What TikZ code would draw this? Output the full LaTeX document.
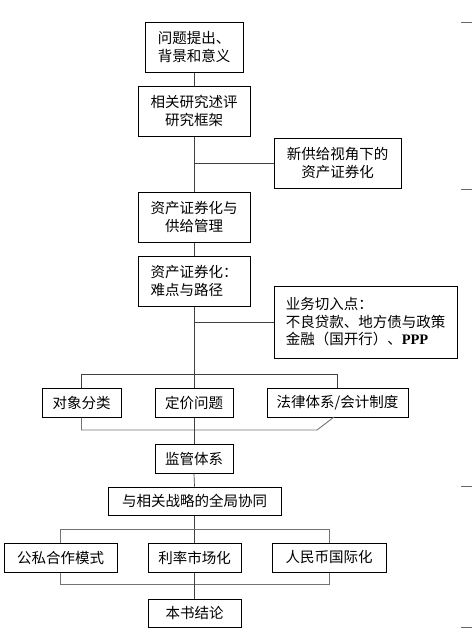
\documentclass[tikz,border=0pt]{standalone}
\usepackage{fontspec}
\setmainfont{Noto Sans CJK SC}
\newfontfamily\latinserif{Liberation Serif}
\begin{document}
\begin{tikzpicture}[x=1pt,y=-1pt,
  box/.style={draw=black,line width=1pt,inner sep=0pt,align=center,
    font=\fontsize{14.5}{17.5}\selectfont},
  lbox/.style={box,align=left},
  conn/.style={draw=black!75,line width=0.7pt},
  gconn/.style={draw=black!55,line width=0.9pt},
  tick/.style={draw=black!60,line width=0.6pt}]
\useasboundingbox (0,0) rectangle (472,637);
% main column
\node[box,minimum width=98pt,minimum height=50pt] (b1) at (194,47) {问题提出、\\背景和意义};
\node[box,minimum width=112pt,minimum height=50pt] (b2) at (194,111) {相关研究述评\\研究框架};
\node[box,minimum width=127pt,minimum height=50pt] (s1) at (337.5,163) {新供给视角下的\\资产证券化};
\node[box,minimum width=112pt,minimum height=50pt] (b3) at (194,217) {资产证券化与\\供给管理};
\node[lbox,minimum width=112pt,minimum height=50pt] (b4) at (194,281) {资产证券化：\\难点与路径};
\node[lbox,minimum width=183pt,minimum height=72pt] (s2) at (365.5,322) {业务切入点：\\不良贷款、地方债与政策\\金融（国开行）、{\latinserif\bfseries PPP}};
\node[box,minimum width=79pt,minimum height=29pt] (c1) at (81.5,402.5) {对象分类};
\node[box,minimum width=78pt,minimum height=29pt] (c2) at (194,402.5) {定价问题};
\node[box,minimum width=141pt,minimum height=29pt] (c3) at (337.5,402.5) {法律体系/会计制度};
\node[box,minimum width=78pt,minimum height=29pt] (b5) at (194,458.5) {监管体系};
\node[box,minimum width=173pt,minimum height=28pt] (b6) at (194.5,501) {与相关战略的全局协同};
\node[box,minimum width=113pt,minimum height=29pt] (d1) at (60.5,557.5) {公私合作模式};
\node[box,minimum width=93pt,minimum height=29pt] (d2) at (194.5,557.5) {利率市场化};
\node[box,minimum width=114pt,minimum height=29pt] (d3) at (329,557.5) {人民币国际化};
\node[box,minimum width=93pt,minimum height=28pt] (b7) at (194.5,613) {本书结论};
% connectors
\draw[conn] (b1.south) -- (b2.north);
\draw[conn] (b2.south) -- (b3.north);
\draw[conn] (b2.south |- s1.west) -- (s1.west);
\draw[conn] (b3.south) -- (b4.north);
\draw[conn] (b4.south) -- (c2.north);
\draw[conn] (b4.south |- s2.west) -- (s2.west);
\coordinate (j1) at (81.5,374);
\draw[conn] (c1.north) -- (j1) -| (c3.north);
\coordinate (j2) at (317,430);
\coordinate (c3foot) at (334,417);
\draw[gconn] (c1.south) |- (j2) -- (c3foot);
\draw[conn] (c2.south) -- (b5.north);
\draw[conn] (b5.south) -- (b6.north);
\draw[conn] (b6.south) -- (d2.north);
\coordinate (j3) at (60.5,529);
\draw[gconn] (d1.north) -- (j3) -| (d3.north);
\coordinate (j4) at (60.5,584);
\draw[gconn] (d1.south) -- (j4) -| (d3.south);
\draw[conn] (d2.south) -- (b7.north);
% edge ticks
\draw[tick] (461,22) -- (472,22);
\draw[tick] (461,189) -- (472,189);
\draw[tick] (461,486) -- (472,486);
\draw[tick] (461,627) -- (472,627);
\end{tikzpicture}
\end{document}
